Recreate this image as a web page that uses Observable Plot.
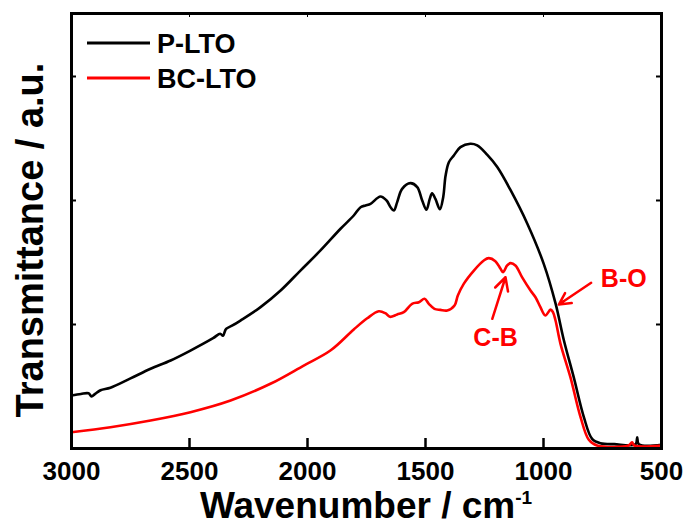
<!DOCTYPE html>
<html>
<head>
<meta charset="utf-8">
<script src="https://cdn.jsdelivr.net/npm/d3@7"></script>
<script src="https://cdn.jsdelivr.net/npm/@observablehq/plot@0.6"></script>
<style>
  html, body { margin: 0; padding: 0; background: white; }
  #chart { width: 686px; height: 526px; }
</style>
</head>
<body>
<div id="chart"></div>
<script>
// ---- Data ----
const seriesNames = ["P-LTO", "BC-LTO"];
const seriesColors = ["#000000", "#ff0000"];

const pltoWavenumber = [3000, 2960, 2928, 2915, 2900, 2877, 2835, 2750, 2665, 2580, 2496, 2400, 2370, 2358, 2345, 2320, 2284, 2199, 2114, 2030, 1945, 1860, 1804, 1775, 1754, 1733, 1691, 1665, 1648, 1634, 1620, 1599, 1564, 1535, 1514, 1496, 1482, 1472, 1458, 1439, 1425, 1415, 1401, 1380, 1352, 1310, 1281, 1239, 1196, 1140, 1069, 999, 949, 914, 872, 829, 794, 759, 700, 610, 603, 596, 500];
const pltoTransmittance = [0.427, 0.44, 0.445, 0.42, 0.44, 0.47, 0.49, 0.565, 0.643, 0.71, 0.79, 0.89, 0.925, 0.91, 0.965, 0.99, 1.032, 1.14, 1.274, 1.435, 1.597, 1.772, 1.879, 1.946, 1.96, 1.973, 2.032, 2.0, 1.946, 1.919, 1.987, 2.094, 2.14, 2.108, 2.0, 1.925, 2.013, 2.059, 2.013, 1.93, 2.027, 2.2, 2.309, 2.363, 2.43, 2.457, 2.444, 2.37, 2.27, 2.085, 1.815, 1.489, 1.17, 0.875, 0.575, 0.253, 0.078, 0.043, 0.035, 0.035, 0.09, 0.035, 0.03];

const bcltoWavenumber = [3000, 2835, 2665, 2496, 2326, 2157, 2016, 1903, 1804, 1747, 1698, 1670, 1651, 1620, 1592, 1557, 1528, 1504, 1486, 1462, 1437, 1408, 1377, 1363, 1338, 1295, 1253, 1232, 1204, 1182, 1171, 1154, 1140, 1119, 1091, 1055, 1034, 1013, 992, 970, 960, 949, 928, 886, 843, 808, 773, 640, 625, 615, 500];
const bcltoTransmittance = [0.131, 0.172, 0.226, 0.293, 0.387, 0.522, 0.669, 0.79, 0.96, 1.05, 1.107, 1.091, 1.062, 1.081, 1.099, 1.167, 1.18, 1.207, 1.167, 1.126, 1.118, 1.113, 1.153, 1.234, 1.328, 1.435, 1.516, 1.535, 1.511, 1.449, 1.422, 1.476, 1.495, 1.476, 1.382, 1.274, 1.22, 1.14, 1.073, 1.12, 1.1, 1.032, 0.844, 0.575, 0.253, 0.07, 0.024, 0.024, 0.05, 0.024, 0.024];

const xTicks = [3000, 2500, 2000, 1500, 1000, 500];
const yTicks = [1, 2, 3];
const xDomain = [3000, 500];
const yDomain = [0, 3.508];

// annotations
const annoLabels = ["C-B", "B-O"];
const annoTextX = [1203, 660];
const annoTextY = [0.891, 1.368];
const arrowFromX = [1217, 798];
const arrowFromY = [1.046, 1.336];
const arrowToX = [1161, 935];
const arrowToY = [1.381, 1.161];

// ---- Build tables ----
const data = [
  ...pltoWavenumber.map((w, i) => ({series: seriesNames[0], w, t: pltoTransmittance[i]})),
  ...bcltoWavenumber.map((w, i) => ({series: seriesNames[1], w, t: bcltoTransmittance[i]}))
];
const annos = annoLabels.map((label, i) => ({
  label, tx: annoTextX[i], ty: annoTextY[i],
  x1: arrowFromX[i], y1: arrowFromY[i], x2: arrowToX[i], y2: arrowToY[i]
}));

const font = "'Liberation Sans', Arial, Helvetica, sans-serif";

const chart = Plot.plot({
  width: 686,
  height: 526,
  marginLeft: 71,
  marginRight: 25,
  marginTop: 13,
  marginBottom: 78,
  style: {fontFamily: font, fontWeight: "bold", background: "white", color: "black"},
  x: {domain: xDomain, axis: null},
  y: {domain: yDomain, axis: null},
  color: {domain: seriesNames, range: seriesColors},
  marks: [
    Plot.line(data, {x: "w", y: "t", z: "series", stroke: "series", strokeWidth: 2.6, curve: "catmull-rom"}),
    Plot.arrow(annos, {x1: "x1", y1: "y1", x2: "x2", y2: "y2", stroke: "#ff0000", strokeWidth: 2.5, headLength: 11, headAngle: 55}),
    Plot.text(annos, {x: "tx", y: "ty", text: "label", fill: "#ff0000", fontSize: 25, fontWeight: "bold"}),
    // inward ticks
    Plot.tickX(xTicks, {x: d => d, insetTop: 425, stroke: "black", strokeWidth: 2.5}),
    Plot.tickX(xTicks, {x: d => d, insetBottom: 431, stroke: "black", strokeWidth: 1}),
    Plot.tickY(yTicks, {y: d => d, insetRight: 585, stroke: "black", strokeWidth: 2}),
    Plot.tickY(yTicks, {y: d => d, insetLeft: 585, stroke: "black", strokeWidth: 2}),
    Plot.axisX(xTicks, {tickSize: 0, tickPadding: 13, fontSize: 26, fontWeight: "bold", tickFormat: d3.format("d"), label: null}),
    Plot.frame({stroke: "black", strokeWidth: 3})
  ]
});

document.getElementById("chart").appendChild(chart);

// ---- Axis titles and legend ----
const svg = d3.select(chart);

const xt = svg.append("text")
  .attr("x", 366).attr("y", 518)
  .attr("text-anchor", "middle")
  .attr("font-family", font).attr("font-weight", "bold")
  .attr("font-size", 37).attr("fill", "black");
xt.append("tspan").text("Wavenumber / cm");
xt.append("tspan").attr("dy", -14).attr("font-size", 19).text("-1");

svg.append("text")
  .attr("transform", "translate(43,240) rotate(-90)")
  .attr("text-anchor", "middle")
  .attr("font-family", font).attr("font-weight", "bold")
  .attr("font-size", 38).attr("fill", "black")
  .text("Transmittance / a.u.");

const legendY = [43, 78];
seriesNames.forEach((name, i) => {
  svg.append("line")
    .attr("x1", 87).attr("x2", 150)
    .attr("y1", legendY[i]).attr("y2", legendY[i])
    .attr("stroke", seriesColors[i]).attr("stroke-width", 3);
  svg.append("text")
    .attr("x", 157).attr("y", legendY[i] + 9.5)
    .attr("text-anchor", "start")
    .attr("font-family", font).attr("font-weight", "bold")
    .attr("font-size", 27).attr("fill", "black")
    .text(name);
});
</script>
</body>
</html>
